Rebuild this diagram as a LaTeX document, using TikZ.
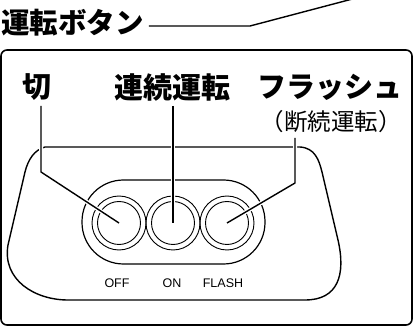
\documentclass[tikz,border=0pt]{standalone}
\usepackage{fontspec}
\setmainfont{Liberation Sans}
\newfontfamily\jpfont{Noto Sans CJK JP}

\tikzset{
	jplabel/.style = {font=\jpfont\bfseries\fontsize{29}{29}\selectfont, inner sep=0pt},
	subtitle/.style = {font=\jpfont\fontsize{23.5}{23.5}\selectfont, inner sep=0pt},
	swlabel/.style = {font=\fontsize{12.5}{12.5}\selectfont, inner sep=0pt},
	button/.style = {circle, draw, line width=0.9pt, minimum size=54pt, inner sep=0pt},
	leader/.style = {line width=1.4pt, preaction={draw=white, line width=4pt}},
}

\begin{document}
\begin{tikzpicture}[x=1pt, y=-1pt, line join=round]
		\useasboundingbox (0,0) rectangle (413,326);
		% outer panel
		\draw [line width=1.6pt, rounded corners=6pt] (1,50) rectangle (412,325);
		% title and its pointer
		\node [jplabel, font=\jpfont\bfseries\fontsize{28.5}{28.5}\selectfont, anchor=west, inner xsep=5pt] (title) at (-4,23) {運転ボタン};
		\coordinate (titlebend) at (250,26);
		\coordinate (titleend) at (360,-3);
		\draw [line width=1.4pt] (title.east |- titlebend) -- (titlebend) -- (titleend);
		% switch housing
		\draw [line width=1.4pt] (45,147) -- (300,147) .. controls (315,148) and (319,160) .. (322,172)
			-- (338,240) .. controls (346,275) and (338,300) .. (305,300) -- (68,300)
			.. controls (35,300) and (2,280) .. (8,245) -- (25,172)
			.. controls (28,160) and (34,150) .. (45,147);
		\draw [line width=1.2pt, rounded corners=41.5pt] (82,180) rectangle (265,264);
		% buttons
		\node [button] (off) at (119,223) {};
		\node [button] (on) at (173,223) {};
		\node [button] (flash) at (227,223) {};
		\draw [line width=0.9pt] (off.center) circle (21.5);
		\draw [line width=0.9pt] (on.center) circle (21.5);
		\draw [line width=0.9pt] (flash.center) circle (21.5);
		\node [swlabel] (offlbl) at (117,283) {OFF};
		\node [swlabel] (onlbl) at (172,283) {ON};
		\node [swlabel] (flashlbl) at (223,283) {FLASH};
		% labels
		\node [jplabel] (kiri) at (37,87) {切};
		\node [jplabel] (renzoku) at (172,87) {連続運転};
		\node [jplabel] (flasher) at (330,87) {フラッシュ};
		\node [subtitle] (dansoku) at (331,122) {（断続運転）};
		% leaders
		\coordinate (kiribend) at (41,172);
		\coordinate (flashbend) at (295,183);
		\draw [leader] (kiribend |- 0,106) -- (kiribend) -- (off.center);
		\draw [leader] (on.center |- 0,106) -- (on.center);
		\draw [leader] (flashbend |- 0,138) -- (flashbend) -- (flash.center);
\end{tikzpicture}
\end{document}
